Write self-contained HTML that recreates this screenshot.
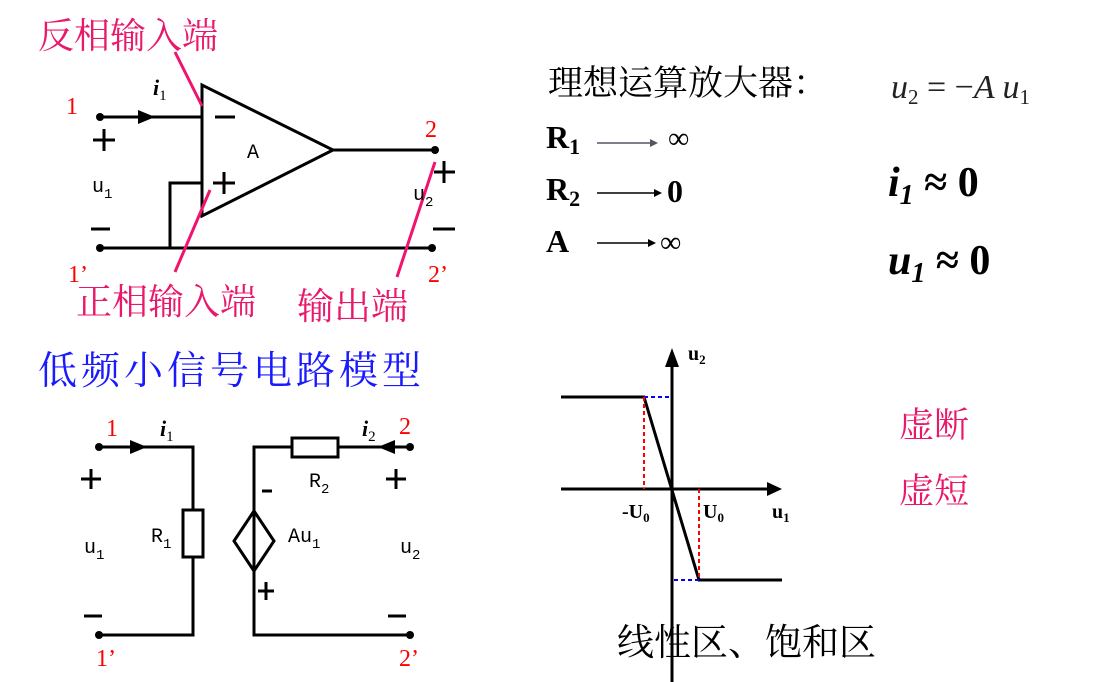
<!DOCTYPE html>
<html><head><meta charset="utf-8"><style>
html,body{margin:0;padding:0;background:#fff;}
svg{display:block;}
.cj{font-family:"Liberation Serif","Noto Serif CJK SC",serif;}
.m{font-family:"Liberation Mono",monospace;}
.s{font-family:"Liberation Serif",serif;}
</style></head><body>
<svg width="1096" height="682" viewBox="0 0 1096 682" xmlns="http://www.w3.org/2000/svg">
<g stroke="#000" stroke-width="3" fill="none">
<line x1="100" y1="117" x2="202" y2="117"/>
<polygon points="202,85 202,216 333,150"/>
<line x1="333" y1="150" x2="435" y2="150"/>
<line x1="100" y1="248" x2="432" y2="248"/>
<polyline points="202,183 170,183 170,248"/>
<line x1="215" y1="117" x2="235" y2="117"/>
<line x1="93" y1="140" x2="115" y2="140"/><line x1="104" y1="129" x2="104" y2="151"/>
<line x1="91" y1="229" x2="110" y2="229"/>
<line x1="434" y1="172" x2="455" y2="172"/><line x1="444" y1="161" x2="444" y2="183"/>
<line x1="433" y1="229" x2="455" y2="229"/>
<line x1="213" y1="183" x2="235" y2="183"/><line x1="224" y1="172" x2="224" y2="194"/>
<polyline points="99,447 193,447 193,635 99,635"/>
<rect x="183" y="510" width="20" height="47" fill="#fff"/>
<polyline points="410,447 254,447 254,635 410,635"/>
<rect x="292" y="438" width="46" height="19" fill="#fff"/>
<polygon points="254,511 274,541 254,571 234,541" fill="#fff"/>
<line x1="254" y1="511" x2="254" y2="571"/>
<line x1="81" y1="479" x2="101" y2="479"/><line x1="91" y1="469" x2="91" y2="489"/>
<line x1="84" y1="616" x2="102" y2="616"/>
<line x1="386" y1="479" x2="406" y2="479"/><line x1="396" y1="469" x2="396" y2="489"/>
<line x1="388" y1="616" x2="406" y2="616"/>
<line x1="262" y1="491" x2="272" y2="491"/>
<line x1="258" y1="591" x2="274" y2="591"/><line x1="266" y1="582" x2="266" y2="600"/>
<line x1="672" y1="682" x2="672" y2="360"/>
<line x1="561" y1="489" x2="768" y2="489"/>
<polyline points="561,397 644,397 699,580 782,580"/>
<line x1="597" y1="243" x2="648" y2="243" stroke-width="1.5"/>
<line x1="597" y1="193" x2="654" y2="193" stroke-width="1.5"/>
<line x1="597" y1="143" x2="650" y2="143" stroke-width="1.5" stroke="#556"/>
</g>
<g fill="#000">
<polygon points="138,110 155,117 138,124"/>
<polygon points="130,440 147,447 130,454"/>
<polygon points="395,440 378,447 395,454"/>
<polygon points="665,367 672,348 679,367"/>
<polygon points="767,482 782,489 767,496"/>
<polygon points="648,239 656,243 648,247"/>
<polygon points="654,189 662,193 654,197"/>
<polygon points="650,139 658,143 650,147" fill="#556"/>
<circle cx="100" cy="117" r="4"/><circle cx="100" cy="248" r="4"/>
<circle cx="435" cy="150" r="4"/><circle cx="432" cy="248" r="4"/>
<circle cx="99" cy="447" r="4"/><circle cx="99" cy="635" r="4"/>
<circle cx="410" cy="447" r="4"/><circle cx="410" cy="635" r="4"/>
</g>
<g stroke-dasharray="4,3" stroke-width="2" fill="none">
<line x1="644" y1="397" x2="670" y2="397" stroke="#00f"/>
<line x1="674" y1="580" x2="699" y2="580" stroke="#00f"/>
<line x1="644" y1="397" x2="644" y2="489" stroke="#f00"/>
<line x1="699" y1="489" x2="699" y2="580" stroke="#f00"/>
</g>
<g stroke="#f0146e" stroke-width="3">
<line x1="175" y1="52" x2="202" y2="106"/>
<line x1="210" y1="190" x2="175" y2="272"/>
<line x1="435" y1="162" x2="397" y2="277"/>
</g>
<g class="cj" fill="#e8196b" font-size="36">
<text x="38" y="48">反相输入端</text>
<text x="76" y="314">正相输入端</text>
<text x="297" y="319" font-size="37">输出端</text>
<text x="899" y="437" font-size="35">虚断</text>
<text x="899" y="503" font-size="35">虚短</text>
</g>
<text class="cj" x="38" y="384" font-size="39" fill="#1a1aff" letter-spacing="4">低频小信号电路模型</text>
<text class="cj" x="617" y="655" font-size="37" fill="#000">线性区、饱和区</text>
<text class="cj" x="548" y="95" font-size="35" fill="#000">理想运算放大器：</text>
<g fill="#f00" class="s" font-size="24">
<text x="66" y="114">1</text><text x="68" y="282">1’</text>
<text x="425" y="137">2</text><text x="428" y="282">2’</text>
<text x="106" y="436">1</text><text x="96" y="666">1’</text>
<text x="399" y="434">2</text><text x="399" y="666">2’</text>
</g>
<g class="m" font-size="20" fill="#000">
<text x="92" y="192">u<tspan font-size="14" dy="6">1</tspan></text>
<text x="413" y="200">u<tspan font-size="14" dy="6">2</tspan></text>
<text x="247" y="158">A</text>
<text x="84" y="553">u<tspan font-size="14" dy="6">1</tspan></text>
<text x="400" y="553">u<tspan font-size="14" dy="6">2</tspan></text>
<text x="151" y="542">R<tspan font-size="14" dy="6">1</tspan></text>
<text x="309" y="487">R<tspan font-size="14" dy="6">2</tspan></text>
<text x="288" y="542">Au<tspan font-size="14" dy="6">1</tspan></text>
</g>
<g class="s" fill="#000">
<text x="153" y="95" font-size="22" font-weight="bold" font-style="italic">i<tspan font-size="15" font-weight="normal" font-style="normal" dy="5">1</tspan></text>
<text x="160" y="436" font-size="22" font-weight="bold" font-style="italic">i<tspan font-size="15" font-weight="normal" font-style="normal" dy="5">1</tspan></text>
<text x="362" y="436" font-size="22" font-weight="bold" font-style="italic">i<tspan font-size="15" font-weight="normal" font-style="normal" dy="5">2</tspan></text>
<g font-weight="bold" font-size="20">
<text x="688" y="360">u<tspan font-size="13" dy="4">2</tspan></text>
<text x="622" y="518">-U<tspan font-size="13" dy="4">0</tspan></text>
<text x="703" y="518">U<tspan font-size="13" dy="4">0</tspan></text>
<text x="772" y="518">u<tspan font-size="13" dy="4">1</tspan></text>
</g>
<g font-weight="bold" font-size="32">
<text x="546" y="148">R<tspan font-size="22" dy="6">1</tspan></text>
<text x="546" y="200">R<tspan font-size="22" dy="6">2</tspan></text>
<text x="546" y="252">A</text>
<text x="667" y="202">0</text>
</g>
<text x="668" y="148" font-size="30">∞</text>
<text x="660" y="252" font-size="30">∞</text>
<text x="891" y="98" font-size="34" fill="#222"><tspan font-style="italic">u</tspan><tspan font-size="21" dy="6">2</tspan><tspan dy="-6"> = −</tspan><tspan font-style="italic">A u</tspan><tspan font-size="21" dy="6">1</tspan></text>
<text x="888" y="196" font-size="42" font-weight="bold"><tspan font-style="italic">i</tspan><tspan font-style="italic" font-size="28" dy="8">1</tspan><tspan dy="-8"> ≈ 0</tspan></text>
<text x="888" y="274" font-size="42" font-weight="bold"><tspan font-style="italic">u</tspan><tspan font-style="italic" font-size="28" dy="8">1</tspan><tspan dy="-8"> ≈ 0</tspan></text>
</g>
</svg>
</body></html>
